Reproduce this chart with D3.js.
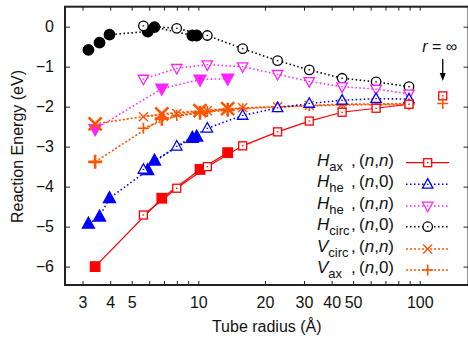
<!DOCTYPE html>
<html><head><meta charset="utf-8">
<script src="https://cdn.jsdelivr.net/npm/d3@7"></script>
<style>
body{margin:0;background:#fff}
svg{display:block}
text{font-family:"Liberation Sans",Arial,Helvetica,sans-serif;fill:#111}
</style>
</head><body>
<svg id="c" width="468" height="339"></svg>
<script>
// ---------------- DATA ----------------
// radii (Å) of the "open marker" series
const openR = [5.65, 7.99, 10.98, 15.86, 22.8, 31.7, 44.6, 63.5, 89.4];
// radii of filled (n,0) points
const fullR_n0 = [3.19, 3.58, 3.97, 5.91, 6.34, 9.40, 9.83];
// radii of filled (n,n) points
const fullR_nn = [3.42, 6.84, 10.18, 13.57];

// H_ax (n,n)
const haxOpenE = [-4.71, -4.04, -3.50, -2.98, -2.63, -2.36, -2.14, -2.04, -1.94];
const haxFullE = [-6.00, -4.29, -3.57, -3.15];
// H_he (n,0)
const hheN0OpenE = [-3.57, -2.99, -2.54, -2.22, -2.03, -1.92, -1.84, -1.80, -1.81];
const hheN0FullE = [-4.93, -4.75, -4.29, -3.59, -3.35, -2.78, -2.75];
// H_he (n,n)
const hheNNOpenE = [-1.31, -1.04, -0.95, -1.00, -1.19, -1.37, -1.50, -1.56, -1.68];
const hheNNFullE = [-2.56, -1.55, -1.32, -1.30];
// H_circ (n,0)
const hcircOpenE = [0.02, -0.04, -0.22, -0.55, -0.85, -1.08, -1.29, -1.38, -1.50];
const hcircFullE = [-0.58, -0.40, -0.20, -0.12, -0.01, -0.22, -0.22];
// V_circ (n,n)
const vcircOpenE = [-2.25, -2.17, -2.10, -2.03, -2.00, -1.97, -1.94, -1.93, -1.93];
const vcircFullE = [-2.43, -2.18, -2.10, -2.05];
// V_ax (n,0)
const vaxOpenE = [-2.54, -2.22, -2.12, -2.05, -2.01, -1.98, -1.96, -1.95, -1.95];
const vaxFullE = [-3.38, -2.30, -2.15, -2.08];

// r = infinity limits
const infSeries = ["hax", "vax"];
const infE = [-1.73, -1.92];

// axis ticks
const xMajor = [3, 4, 5, 10, 20, 30, 40, 50, 100];
const xMinor = [6, 7, 8, 9, 60, 70, 80, 90];
const yTicks = [-6, -5, -4, -3, -2, -1, 0];

// legend
const legendKeys = ["hax", "hheN0", "hheNN", "hcirc", "vcirc", "vax"];
const legendMain = ["H", "H", "H", "H", "V", "V"];
const legendSub = ["ax", "he", "he", "circ", "circ", "ax"];
const legendType = ["n,n", "n,0", "n,n", "n,0", "n,n", "n,0"];

// ---------------- STYLE ----------------
const styles = {
  hax:   {color: "#ff0000", dash: null,  marker: "square"},
  hheN0: {color: "#0000ff", dash: "1.5,2.5", marker: "triUp"},
  hheNN: {color: "#ff22ff", dash: "1.5,2.5", marker: "triDown"},
  hcirc: {color: "#000000", dash: "1.5,2.5", marker: "circle"},
  vcirc: {color: "#ff5500", dash: "2,2", marker: "cross"},
  vax:   {color: "#ff5500", dash: "2,2", marker: "plus"}
};

const series = [
  {key: "hcirc", r: fullR_n0, e: hcircFullE, filled: true},
  {key: "hcirc", r: openR, e: hcircOpenE, filled: false},
  {key: "hheNN", r: fullR_nn, e: hheNNFullE, filled: true},
  {key: "hheNN", r: openR, e: hheNNOpenE, filled: false},
  {key: "vax", r: fullR_nn, e: vaxFullE, filled: true},
  {key: "vax", r: openR, e: vaxOpenE, filled: false},
  {key: "vcirc", r: fullR_nn, e: vcircFullE, filled: true},
  {key: "vcirc", r: openR, e: vcircOpenE, filled: false},
  {key: "hheN0", r: fullR_n0, e: hheN0FullE, filled: true},
  {key: "hheN0", r: openR, e: hheN0OpenE, filled: false},
  {key: "hax", r: fullR_nn, e: haxFullE, filled: true},
  {key: "hax", r: openR, e: haxOpenE, filled: false}
];

// ---------------- SCALES ----------------
const L = 65, R = 468.5, T = 6.7, B = 285;
const x = d3.scaleLog().domain([2.5, 166]).range([L, R]);
const y = d3.scaleLinear().domain([-6.46, 0.5]).range([B, T]);
const infR = 127;   // drawing position for r = infinity

const svg = d3.select("#c");

// ---------------- AXES ----------------
const axisCol = "#222";
function styleAxis(g) {
  g.select(".domain").remove();
  g.selectAll(".tick line").attr("stroke", axisCol).attr("stroke-width", 1);
  g.selectAll(".tick text").style("font-size", "16px").attr("fill", "#111");
}
const xTickVals = xMajor.concat(xMinor);
svg.append("g").attr("transform", `translate(0,${B})`)
  .call(d3.axisBottom(x).tickValues(xTickVals).tickSize(-4).tickPadding(12)
    .tickFormat(d => xMajor.includes(d) ? String(d) : ""))
  .call(styleAxis);
svg.append("g").attr("transform", `translate(0,${T})`)
  .call(d3.axisTop(x).tickValues(xTickVals).tickSize(-4).tickFormat(""))
  .call(styleAxis);
svg.append("g").attr("transform", `translate(${L},0)`)
  .call(d3.axisLeft(y).tickValues(yTicks).tickSize(-5).tickPadding(11)
    .tickFormat(d3.format("d")))
  .call(styleAxis);
svg.append("g").attr("transform", `translate(${R},0)`)
  .call(d3.axisRight(y).tickValues(yTicks).tickSize(-5).tickFormat(""))
  .call(styleAxis);
svg.selectAll("g text").attr("font-family", "Liberation Sans, Arial, sans-serif");

svg.append("rect").attr("x", L).attr("y", T).attr("width", R - L).attr("height", B - T)
  .attr("fill", "none").attr("stroke", axisCol).attr("stroke-width", 2);

// axis titles
svg.append("text").attr("x", (L + R) / 2).attr("y", 332).attr("text-anchor", "middle")
  .style("font-size", "16px").text("Tube radius (Å)");
svg.append("text").attr("transform", "translate(23,146.5) rotate(-90)")
  .attr("text-anchor", "middle").style("font-size", "16px").text("Reaction Energy (eV)");

// ---------------- MARKERS ----------------
function drawMarker(g, type, cx, cy, color, filled) {
  const sw = 1.3;
  if (type === "square") {
    const s = filled ? 9.5 : 8;
    g.append("rect").attr("x", cx - s / 2).attr("y", cy - s / 2).attr("width", s).attr("height", s)
      .attr("fill", filled ? color : "#fff").attr("stroke", color).attr("stroke-width", sw);
  } else if (type === "triUp" || type === "triDown") {
    const s = filled ? 11 : 9.5;
    const d = type === "triUp" ? 1 : -1;
    const pts = [[cx, cy - d * s * 0.6], [cx + s * 0.55, cy + d * s * 0.4], [cx - s * 0.55, cy + d * s * 0.4]];
    g.append("path").attr("d", "M" + pts.map(p => p.join(",")).join("L") + "Z")
      .attr("fill", filled ? color : "#fff").attr("stroke", color).attr("stroke-width", sw);
  } else if (type === "circle") {
    const s = filled ? 10.5 : 9.5;
    g.append("circle").attr("cx", cx).attr("cy", cy).attr("r", s / 2)
      .attr("fill", filled ? color : "#fff").attr("stroke", color).attr("stroke-width", sw);
  } else if (type === "cross") {
    const h = filled ? 6.5 : 4.5;
    g.append("path").attr("d", `M${cx - h},${cy - h}L${cx + h},${cy + h}M${cx - h},${cy + h}L${cx + h},${cy - h}`)
      .attr("stroke", color).attr("stroke-width", filled ? 2.6 : 1.4).attr("fill", "none");
  } else if (type === "plus") {
    const h = filled ? 7 : 5.5;
    g.append("path").attr("d", `M${cx - h},${cy}L${cx + h},${cy}M${cx},${cy - h}L${cx},${cy + h}`)
      .attr("stroke", color).attr("stroke-width", filled ? 2.6 : 1.6).attr("fill", "none");
  }
  if (!filled && (type === "square" || type === "circle" || type === "triUp" || type === "triDown")) {
    g.append("rect").attr("x", cx - 0.8).attr("y", cy - 0.6).attr("width", 1.6).attr("height", 1.2).attr("fill", color);
  }
}

// ---------------- SERIES ----------------
const line = d3.line().x(d => x(d[0])).y(d => y(d[1]));
const gLines = svg.append("g");
const gPts = svg.append("g");
series.forEach(s => {
  const st = styles[s.key];
  const pts = s.r.map((r, i) => [r, s.e[i]]);
  gLines.append("path").attr("d", line(pts)).attr("fill", "none")
    .attr("stroke", st.color).attr("stroke-width", st.dash ? 1.6 : 1.2)
    .attr("stroke-dasharray", st.dash);
});
series.forEach(s => {
  const st = styles[s.key];
  s.r.forEach((r, i) => drawMarker(gPts, st.marker, x(r), y(s.e[i]), st.color, s.filled));
});

// r = infinity
infSeries.forEach((k, i) => drawMarker(gPts, styles[k].marker, x(infR), y(infE[i]), styles[k].color, false));
const ax = x(infR);
svg.append("line").attr("x1", ax).attr("x2", ax).attr("y1", 59).attr("y2", 74)
  .attr("stroke", "#000").attr("stroke-width", 1.3);
svg.append("path").attr("d", `M${ax - 3},${73}L${ax + 3},${73}L${ax},${81}Z`).attr("fill", "#000");
const rinf = svg.append("text").attr("x", ax - 3).attr("y", 52).attr("text-anchor", "middle").style("font-size", "16px");
rinf.append("tspan").style("font-style", "italic").text("r");
rinf.append("tspan").text(" = ∞");

// ---------------- LEGEND ----------------
const legRowY = [162.7, 184.3, 206, 226.7, 249, 270];
const legG = svg.append("g");
legendKeys.forEach((k, i) => {
  const st = styles[k];
  const cy = legRowY[i];
  const t = legG.append("text").attr("x", 317).attr("y", cy + 3).style("font-size", "17px");
  t.append("tspan").style("font-style", "italic").text(legendMain[i]);
  t.append("tspan").attr("dy", 5).style("font-size", "13px").text(legendSub[i]);
  legG.append("text").attr("x", 351).attr("y", cy + 3).style("font-size", "17px").text(",");
  const t2 = legG.append("text").attr("x", 359).attr("y", cy + 3).style("font-size", "17px");
  const parts = legendType[i].split(",");
  t2.append("tspan").text("(");
  t2.append("tspan").style("font-style", "italic").text("n");
  t2.append("tspan").text(",");
  t2.append("tspan").style("font-style", parts[1] === "n" ? "italic" : "normal").text(parts[1]);
  t2.append("tspan").text(")");
  legG.append("line").attr("x1", 406).attr("x2", 449).attr("y1", cy).attr("y2", cy)
    .attr("stroke", st.color).attr("stroke-width", st.dash ? 1.6 : 1.2).attr("stroke-dasharray", st.dash);
  drawMarker(legG, st.marker, 427.7, cy, st.color, false);
});
</script>
</body></html>
